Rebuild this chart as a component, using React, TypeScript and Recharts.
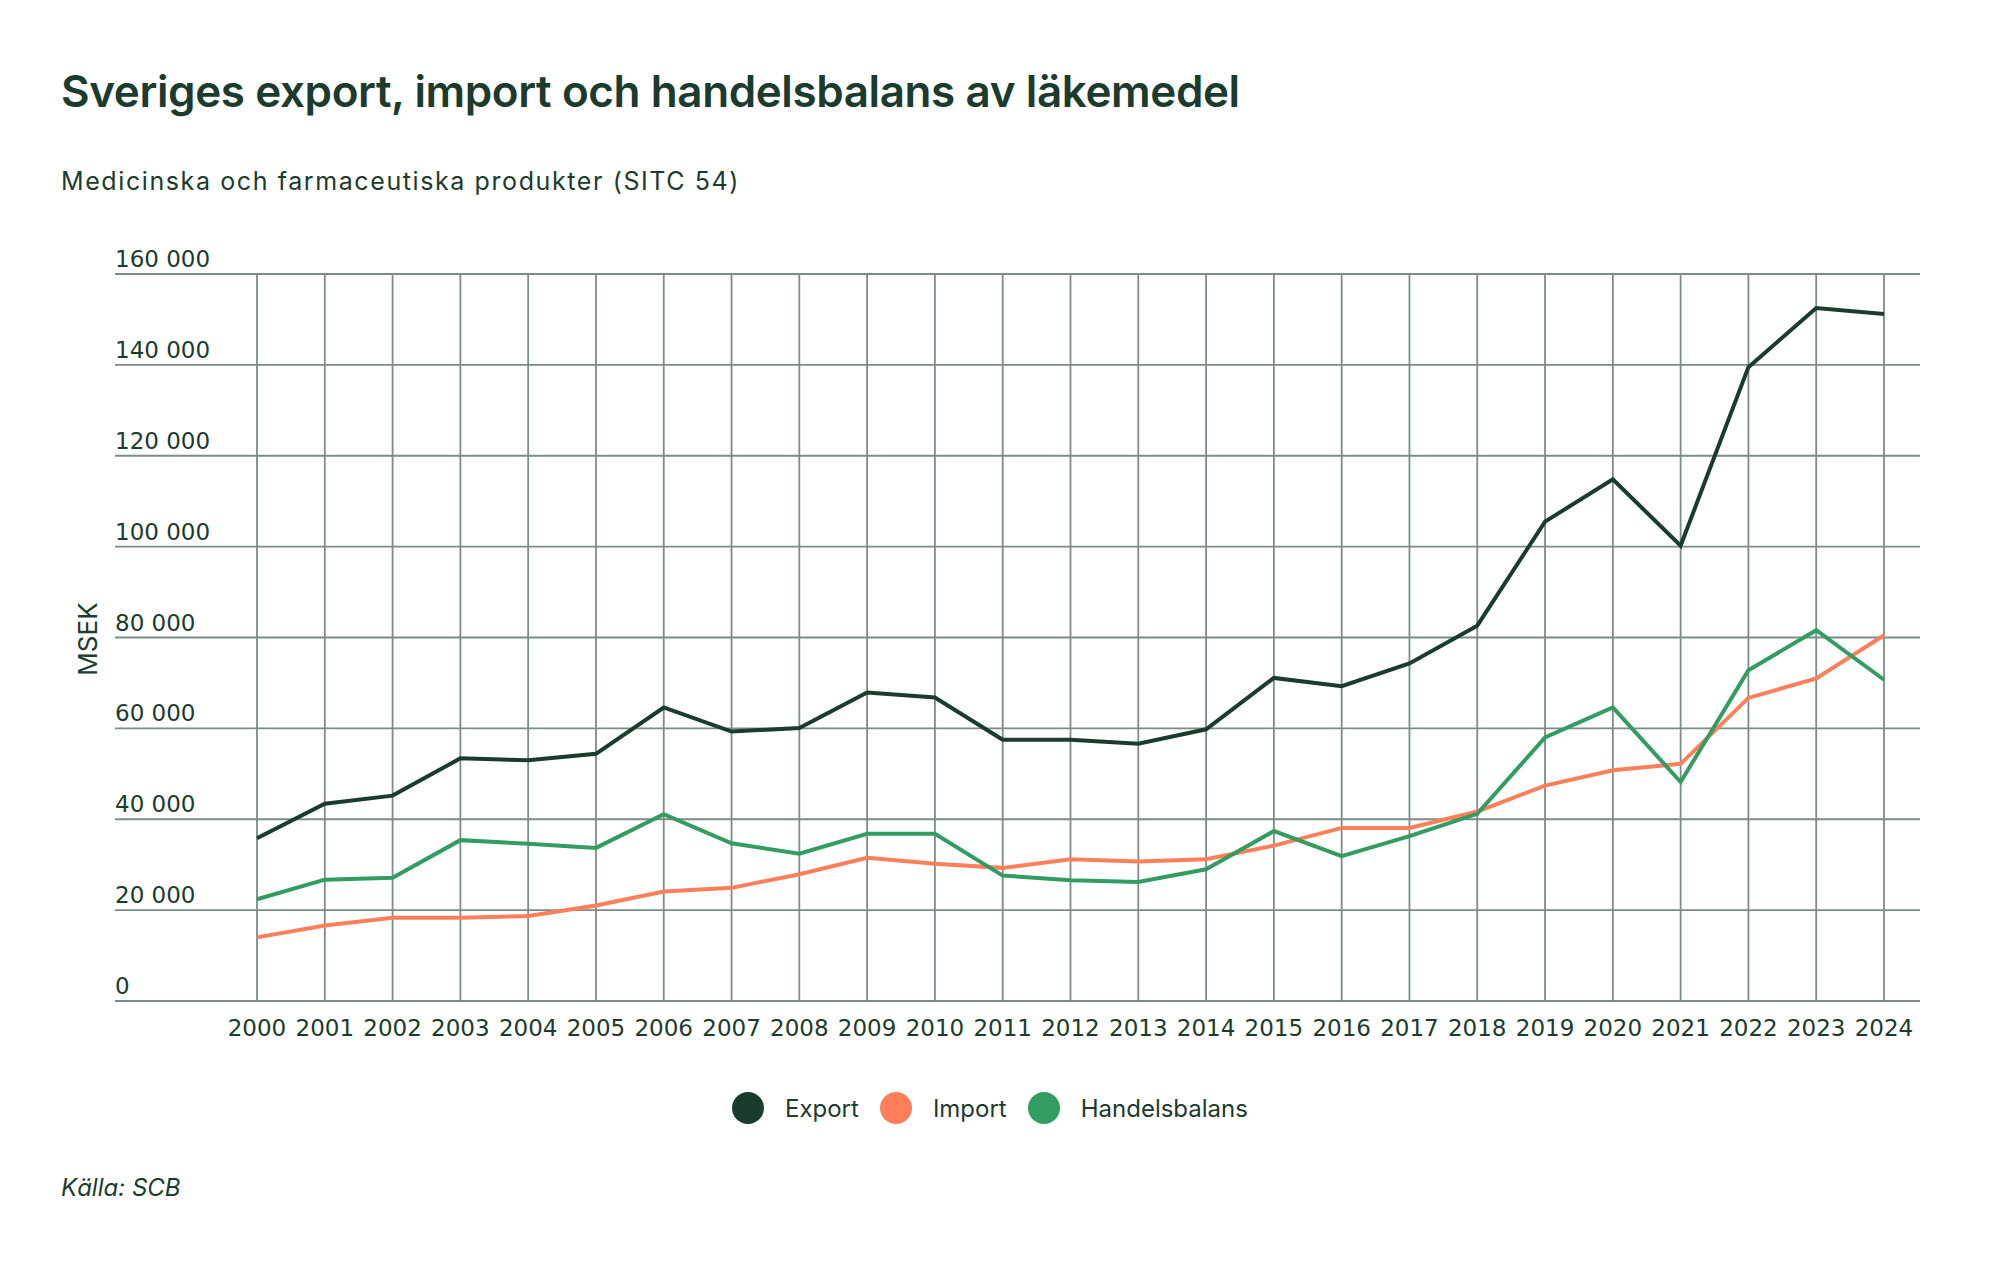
import { CartesianGrid, Line, LineChart, XAxis, YAxis } from "recharts";

const years = [
  "2000", "2001", "2002", "2003", "2004", "2005", "2006", "2007", "2008",
  "2009", "2010", "2011", "2012", "2013", "2014", "2015", "2016", "2017",
  "2018", "2019", "2020", "2021", "2022", "2023", "2024",
];

const exportValues = [
  35800, 43400, 45200, 53400, 53000, 54400, 64600, 59300, 60100, 67900,
  66800, 57500, 57500, 56600, 59800, 71100, 69300, 74300, 82600, 105500,
  114800, 100200, 139500, 152500, 151200,
];

const importValues = [
  14000, 16600, 18300, 18300, 18700, 21000, 24100, 24900, 27900, 31500,
  30200, 29300, 31200, 30700, 31200, 34200, 38100, 38100, 41700, 47400,
  50800, 52200, 66700, 71000, 80500,
];

const balansValues = [
  22400, 26700, 27100, 35400, 34600, 33700, 41100, 34700, 32400, 36800,
  36800, 27600, 26600, 26200, 29000, 37400, 31900, 36300, 41200, 58000,
  64600, 48200, 72800, 81600, 70700,
];

const yTicks = [0, 20000, 40000, 60000, 80000, 100000, 120000, 140000, 160000];

const series = [
  { key: "export", name: "Export", color: "#1a3c2c" },
  { key: "import", name: "Import", color: "#ff7f5a" },
  { key: "balans", name: "Handelsbalans", color: "#339c60" },
];

const data = years.map((year, i) => ({
  year,
  export: exportValues[i],
  import: importValues[i],
  balans: balansValues[i],
}));

const TEXT = "#1b3b2e";
const GRID = "#7b8d84";
const FONT = "Inter, 'Noto Sans', sans-serif";
const TICK_FONT = "'DejaVu Sans', sans-serif";
const PLOT_LEFT = 115;
const PLOT_TOP = 274;
const PLOT_BOTTOM = 1001;

const fmt = (v: number) => String(v).replace(/\B(?=(\d{3})+(?!\d))/g, " ");

const XTick = ({ x, payload }: any) => (
  <text x={x} y={PLOT_BOTTOM + 35} textAnchor="middle" fill={TEXT} fontSize={23} fontFamily={TICK_FONT}>
    {payload.value}
  </text>
);

const YTick = ({ y, payload }: any) => (
  <text x={PLOT_LEFT} y={y - 7} textAnchor="start" fill={TEXT} fontSize={23} fontFamily={TICK_FONT}>
    {fmt(payload.value)}
  </text>
);

export default function App() {
  return (
    <div style={{ position: "absolute", left: 0, top: 0, width: 2000, height: 1270, background: "#fff", fontFamily: FONT, color: TEXT }}>
      <div style={{ position: "absolute", left: 61, top: 64, fontSize: 44, fontWeight: 600, letterSpacing: -0.4, whiteSpace: "nowrap" }}>
        Sveriges export, import och handelsbalans av läkemedel
      </div>
      <div style={{ position: "absolute", left: 61, top: 166, fontSize: 25, letterSpacing: 1.6, whiteSpace: "nowrap" }}>
        Medicinska och farmaceutiska produkter (SITC 54)
      </div>
      <div
        style={{
          position: "absolute",
          left: 87,
          top: 639,
          fontSize: 26,
          transform: "translate(-50%, -50%) rotate(-90deg)",
          whiteSpace: "nowrap",
        }}
      >
        MSEK
      </div>
      <div style={{ position: "absolute", left: 0, top: 0 }}>
        <LineChart width={2000} height={1270} data={data} margin={{ top: PLOT_TOP, right: 80, bottom: 229, left: PLOT_LEFT - 1 }}>
          <CartesianGrid stroke={GRID} strokeWidth={1.8} syncWithTicks />
          <XAxis
            dataKey="year"
            height={40}
            axisLine={false}
            tickLine={false}
            interval={0}
            padding={{ left: 142, right: 36 }}
            tick={XTick}
          />
          <YAxis
            width={1}
            domain={[0, 160000]}
            ticks={yTicks}
            interval={0}
            axisLine={false}
            tickLine={false}
            tick={YTick}
          />
          {series.map((s) => (
            <Line
              key={s.key}
              type="linear"
              dataKey={s.key}
              name={s.name}
              stroke={s.color}
              strokeWidth={4}
              dot={false}
              isAnimationActive={false}
            />
          ))}
        </LineChart>
      </div>
      <div style={{ position: "absolute", left: 732, top: 1092, display: "flex", alignItems: "center", height: 32 }}>
        {series.map((s) => (
          <div key={s.key} style={{ display: "flex", alignItems: "center", marginRight: 21 }}>
            <div style={{ width: 32, height: 32, borderRadius: "50%", background: s.color, marginRight: 21 }} />
            <span style={{ fontSize: 24 }}>{s.name}</span>
          </div>
        ))}
      </div>
      <div style={{ position: "absolute", left: 61, top: 1173, fontSize: 24, fontStyle: "italic", whiteSpace: "nowrap" }}>
        Källa: SCB
      </div>
    </div>
  );
}
